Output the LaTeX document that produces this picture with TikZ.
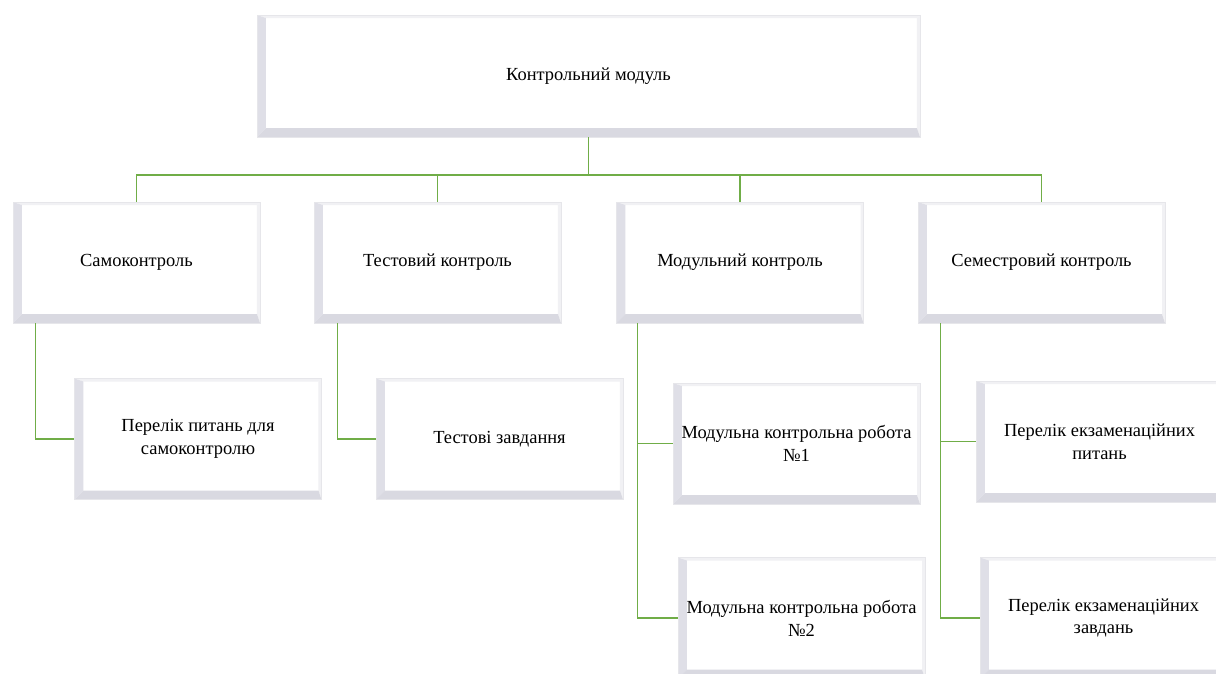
\documentclass[tikz,border=0pt]{standalone}
\usepackage{fontspec}
\setmainfont{Liberation Serif}
\usetikzlibrary{positioning}
\definecolor{linkgreen}{HTML}{70AD47}
\definecolor{edgegray}{HTML}{E6E6EA}
\definecolor{bevside}{HTML}{DFDFE7}
\definecolor{bevbottom}{HTML}{D9D9E1}
\definecolor{bevlight}{HTML}{F1F1F4}

\begin{document}
\begin{tikzpicture}[
    x=0.02cm, y=-0.02cm,
    font=\fontsize{10.5}{13}\selectfont,
    bevelbox/.style={draw=edgegray, fill=white, align=center, inner sep=2pt,
        minimum width=4.94cm, minimum height=2.42cm,
        path picture={
            \fill[bevlight] (path picture bounding box.north west) -- (path picture bounding box.north east)
                -- ([shift={(-1.7pt,-1.7pt)}]path picture bounding box.north east)
                -- ([shift={(5pt,-1.7pt)}]path picture bounding box.north west) -- cycle;
            \fill[bevlight] (path picture bounding box.north east) -- (path picture bounding box.south east)
                -- ([shift={(-1.7pt,5pt)}]path picture bounding box.south east)
                -- ([shift={(-1.7pt,-1.7pt)}]path picture bounding box.north east) -- cycle;
            \fill[bevside] (path picture bounding box.north west) -- (path picture bounding box.south west)
                -- ([shift={(5pt,5pt)}]path picture bounding box.south west)
                -- ([shift={(5pt,-1.7pt)}]path picture bounding box.north west) -- cycle;
            \fill[bevbottom] (path picture bounding box.south west) -- (path picture bounding box.south east)
                -- ([shift={(-1.7pt,5pt)}]path picture bounding box.south east)
                -- ([shift={(5pt,5pt)}]path picture bounding box.south west) -- cycle;
        }},
    link/.style={draw=linkgreen, line width=0.6pt}
]
\useasboundingbox (0,0) rectangle (1216,673);
\clip (0,0) rectangle (1216,673);

% top level
\node[bevelbox, minimum width=13.26cm, minimum height=2.44cm] (module) at (588.5,76) {Контрольний модуль};

% kinds of control
\node[bevelbox] (self) at (136.5,262.5) {Самоконтроль};
\node[bevelbox] (test) at (437.5,262.5) {Тестовий контроль};
\node[bevelbox] (modular) at (740,262.5) {Модульний контроль};
\node[bevelbox] (semester) at (1041.5,262.5) {Семестровий контроль};

% materials
\node[bevelbox] (selfq) at (198,439) {Перелік питань для\\самоконтролю};
\node[bevelbox] (tasks) at (499.5,439) {Тестові завдання};
\node[bevelbox] (mcr1) at (796.5,443.5) {Модульна контрольна робота\\№1};
\node[bevelbox] (mcr2) at (801.5,618) {Модульна контрольна робота\\№2};
\node[bevelbox] (examq) at (1099.5,441.5) {Перелік екзаменаційних\\питань};
\node[bevelbox] (examt) at (1103.5,618) {Перелік екзаменаційних\\завдань};

\coordinate (bus) at (588.5,175);
\draw[link] (module.south) -- (bus);
\draw[link] (bus) -| (self.north);
\draw[link] (bus) -| (test.north);
\draw[link] (bus) -| (modular.north);
\draw[link] (bus) -| (semester.north);

\draw[link] ([xshift=0.46cm]self.south west) |- (selfq.west);
\draw[link] ([xshift=0.48cm]test.south west) |- (tasks.west);
\draw[link] ([xshift=0.42cm]modular.south west) |- (mcr1.west);
\draw[link] ([xshift=0.42cm]modular.south west) |- (mcr2.west);
\draw[link] ([xshift=0.46cm]semester.south west) |- (examq.west);
\draw[link] ([xshift=0.46cm]semester.south west) |- (examt.west);
\end{tikzpicture}
\end{document}
